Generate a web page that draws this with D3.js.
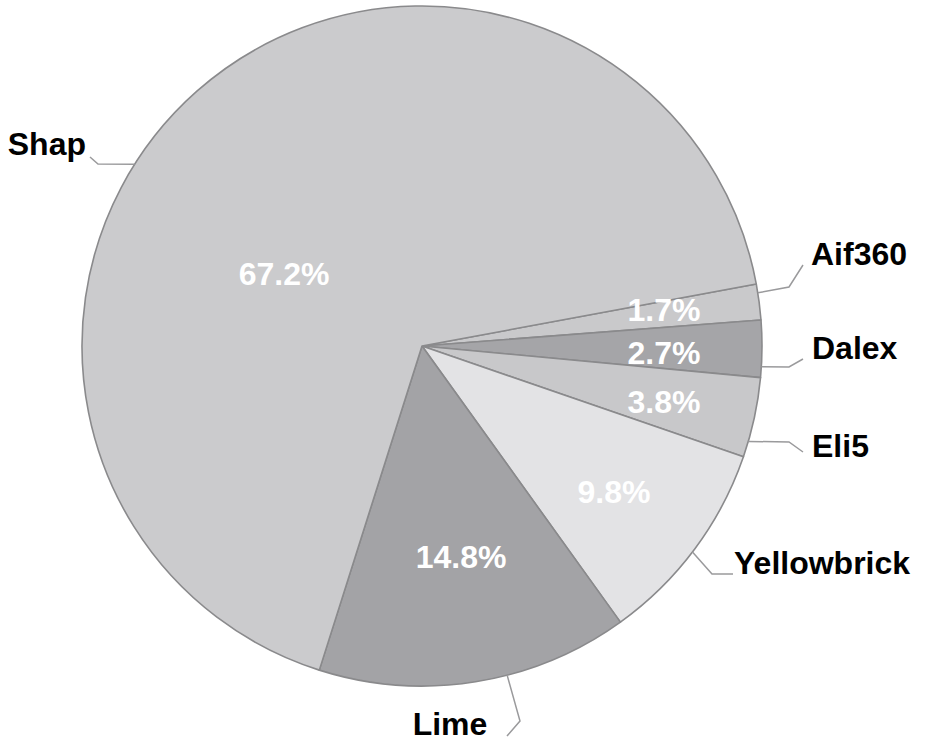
<!DOCTYPE html>
<html>
<head>
<meta charset="utf-8">
<script src="https://cdn.jsdelivr.net/npm/d3@7"></script>
<style>
  html, body { margin: 0; padding: 0; background: #ffffff; }
  svg { display: block; }
  text { font-family: "Liberation Sans", Arial, Helvetica, sans-serif; font-weight: bold; }
</style>
</head>
<body>
<svg id="chart" width="925" height="743"></svg>
<script>
// Share of usage by explainability library (percent)
const categories = ["Aif360", "Dalex", "Eli5", "Yellowbrick", "Lime", "Shap"];
const shares = [1.7, 2.7, 3.8, 9.8, 14.8, 67.2];
const sliceColors = ["#c9c9cb", "#a5a5a8", "#c8c8ca", "#e3e3e5", "#a3a3a6", "#cbcbcd"];

// Layout: pie geometry and label placement
const W = 925, H = 743;
const cx = 422, cy = 346, radius = 340;
const startDeg = 79.5;
const fontSize = 32;

// Percent labels: offsets from the pie centre (text centre x, baseline y)
const pctOffsets = [[242, -25], [242, 18], [242, 67], [192, 157], [39, 222], [-138, -61]];
// Leader lines: angle where the line leaves the rim, then elbow and end points
const leaderAngles = [81, 93.5, 106.3, 127.3, 165.5, 302.3];
const leaderElbows = [[789, 287], [789, 367], [789, 442], [712, 574], [520, 721], [98, 164]];
const leaderEnds = [[803, 265], [803, 359], [803, 452], [733, 574], [507, 736], [90, 157]];
// Category labels: anchor point and text-anchor
const namePos = [[811, 265], [812, 359], [812, 457], [734, 574], [450, 735], [86, 155]];
const nameAnchor = ["start", "start", "start", "start", "middle", "end"];

const rad = d => d * Math.PI / 180;
const svg = d3.select("#chart");
const g = svg.append("g").attr("transform", `translate(${cx},${cy})`);

const pie = d3.pie()
  .sort(null)
  .value(d => d)
  .startAngle(rad(startDeg))
  .endAngle(rad(startDeg) + 2 * Math.PI);

const arcs = pie(shares);
const arc = d3.arc().innerRadius(0).outerRadius(radius);

g.selectAll("path.slice")
  .data(arcs)
  .join("path")
  .attr("class", "slice")
  .attr("d", arc)
  .attr("fill", (d, i) => sliceColors[i])
  .attr("stroke", "#8a8a8c")
  .attr("stroke-width", 1.6)
  .attr("stroke-linejoin", "round");

// Percent labels inside the slices
const fmt = v => d3.format(".1f")(v) + "%";
g.selectAll("text.pct")
  .data(arcs)
  .join("text")
  .attr("class", "pct")
  .attr("x", (d, i) => pctOffsets[i][0])
  .attr("y", (d, i) => pctOffsets[i][1])
  .attr("text-anchor", "middle")
  .attr("fill", "#ffffff")
  .attr("font-size", fontSize)
  .text(d => fmt(d.value));

// Leader lines from the rim to each category name
const rimPoint = a => [cx + radius * Math.sin(rad(a)), cy - radius * Math.cos(rad(a))];
svg.selectAll("polyline.leader")
  .data(categories)
  .join("polyline")
  .attr("class", "leader")
  .attr("points", (d, i) => [rimPoint(leaderAngles[i]), leaderElbows[i], leaderEnds[i]]
    .map(p => p.join(",")).join(" "))
  .attr("fill", "none")
  .attr("stroke", "#9a9a9c")
  .attr("stroke-width", 1.5);

svg.selectAll("text.name")
  .data(categories)
  .join("text")
  .attr("class", "name")
  .attr("x", (d, i) => namePos[i][0])
  .attr("y", (d, i) => namePos[i][1])
  .attr("text-anchor", (d, i) => nameAnchor[i])
  .attr("fill", "#000000")
  .attr("font-size", fontSize)
  .text(d => d);
</script>
</body>
</html>
